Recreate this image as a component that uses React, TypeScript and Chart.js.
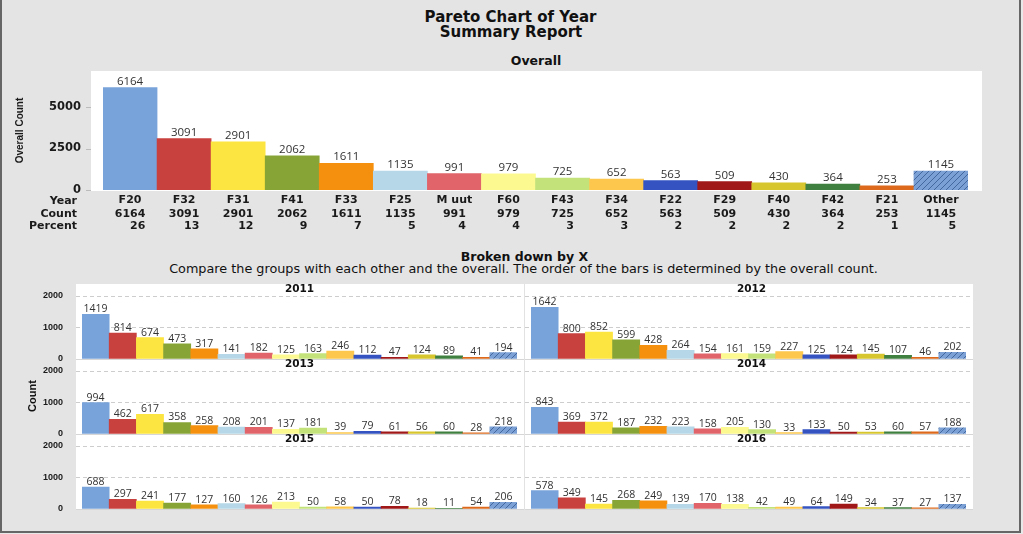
import React, { useEffect, useRef } from "react";
import { Chart, registerables } from "chart.js";
Chart.register(...registerables);

const categories = ["F20", "F32", "F31", "F41", "F33", "F25", "M uut", "F60", "F43", "F34", "F22", "F29", "F40", "F42", "F21", "Other"];
const overallCounts = [6164, 3091, 2901, 2062, 1611, 1135, 991, 979, 725, 652, 563, 509, 430, 364, 253, 1145];
const overallPercents = [26, 13, 12, 9, 7, 5, 4, 4, 3, 3, 2, 2, 2, 2, 1, 5];
const overallTicks = [0, 2500, 5000];
const panelTicks = [0, 1000, 2000];
const tableRows = ["Year", "Count", "Percent"];

const years = ["2011", "2012", "2013", "2014", "2015", "2016"];
const counts2011 = [1419, 814, 674, 473, 317, 141, 182, 125, 163, 246, 112, 47, 124, 89, 41, 194];
const counts2012 = [1642, 800, 852, 599, 428, 264, 154, 161, 159, 227, 125, 124, 145, 107, 46, 202];
const counts2013 = [994, 462, 617, 358, 258, 208, 201, 137, 181, 39, 79, 61, 56, 60, 28, 218];
const counts2014 = [843, 369, 372, 187, 232, 223, 158, 205, 130, 33, 133, 50, 53, 60, 57, 188];
const counts2015 = [688, 297, 241, 177, 127, 160, 126, 213, 50, 58, 50, 78, 18, 11, 54, 206];
const counts2016 = [578, 349, 145, 268, 249, 139, 170, 138, 42, 49, 64, 149, 34, 37, 27, 137];
const yearCounts = [counts2011, counts2012, counts2013, counts2014, counts2015, counts2016];

const barColors = [
  "#78a3da", "#c9413f", "#fde541", "#87a437", "#f5900f", "#b5d7e7", "#e0646a", "#fdf991",
  "#c4e27a", "#fcc74c", "#3554c2", "#a01818", "#d8c62f", "#3f7f3f", "#dd6a1c",
];

const BOLD = "'DejaVu Sans', sans-serif";
const VAL = "'Open Sans', sans-serif";
const SUB = "'DejaVu Sans', sans-serif";
const NARROW = "'Liberation Sans', Arial, sans-serif";

function makeHatch(): any {
  const c = document.createElement("canvas");
  c.width = 6;
  c.height = 6;
  const g = c.getContext("2d")!;
  g.fillStyle = "#7ba0d6";
  g.fillRect(0, 0, 6, 6);
  g.strokeStyle = "#43689f";
  g.lineWidth = 1;
  g.beginPath();
  g.moveTo(0, 6); g.lineTo(6, 0);
  g.moveTo(-3, 3); g.lineTo(3, -3);
  g.moveTo(3, 9); g.lineTo(9, 3);
  g.stroke();
  return g.createPattern(c, "repeat");
}

function colorsWithHatch() {
  return [...barColors, makeHatch()];
}

function ChartCanvas({ left, top, width, height, makeConfig }: any) {
  const ref = useRef<HTMLCanvasElement>(null);
  useEffect(() => {
    const chart = new Chart(ref.current as HTMLCanvasElement, makeConfig());
    return () => chart.destroy();
  }, []);
  return (
    <canvas
      ref={ref}
      width={width}
      height={height}
      style={{ position: "absolute", left, top, width, height }}
    />
  );
}

function Label({ cx, cy, text, size, bold, family, rotate, color }: any) {
  return (
    <div
      style={{
        position: "absolute",
        left: cx - 450,
        top: cy - size,
        width: 900,
        height: size * 2,
        lineHeight: `${size * 2}px`,
        textAlign: "center",
        fontFamily: family,
        fontSize: size,
        fontWeight: bold ? "bold" : "normal",
        color: color || "#111",
        whiteSpace: "nowrap",
        transform: rotate ? "rotate(-90deg)" : undefined,
      }}
    >
      {text}
    </div>
  );
}

function topConfig() {
  const decor = {
    id: "topDecor",
    beforeDraw(chart: any) {
      const { ctx, chartArea: a, scales } = chart;
      ctx.save();
      ctx.fillStyle = "#ffffff";
      ctx.fillRect(a.left - 12, a.top, a.right - a.left + 26, a.bottom - a.top + 1);
      ctx.strokeStyle = "#bbbbbb";
      ctx.lineWidth = 1;
      overallTicks.forEach((v) => {
        const y = Math.round(scales.y.getPixelForValue(v)) + 0.5;
        ctx.beginPath();
        ctx.moveTo(a.left - 17, y);
        ctx.lineTo(a.left - 12, y);
        ctx.stroke();
      });
      ctx.restore();
    },
    afterDatasetsDraw(chart: any) {
      const { ctx } = chart;
      const meta = chart.getDatasetMeta(0);
      ctx.save();
      ctx.font = `11.5px ${VAL}`;
      ctx.fillStyle = "#333333";
      ctx.textAlign = "center";
      ctx.textBaseline = "alphabetic";
      meta.data.forEach((bar: any, i: number) => {
        ctx.fillText(String(overallCounts[i]), bar.x, bar.y - 3);
      });
      ctx.restore();
    },
    afterDraw(chart: any) {
      const { ctx, scales } = chart;
      ctx.save();
      ctx.font = `bold 11px ${BOLD}`;
      ctx.fillStyle = "#1a1a1a";
      ctx.textBaseline = "middle";
      ctx.textAlign = "right";
      const rowY = [139, 152, 164];
      tableRows.forEach((t, i) => ctx.fillText(t, 77, rowY[i]));
      overallCounts.forEach((c, i) => {
        const x = scales.x.getPixelForValue(i);
        const s = String(c);
        const w = ctx.measureText(s).width;
        ctx.textAlign = "center";
        ctx.fillText(s, x, rowY[1]);
        ctx.textAlign = "right";
        ctx.fillText(String(overallPercents[i]), x + w / 2, rowY[2]);
      });
      ctx.restore();
    },
  };
  return {
    type: "bar",
    data: {
      labels: categories,
      datasets: [
        {
          data: overallCounts,
          backgroundColor: colorsWithHatch(),
          borderWidth: 0,
          categoryPercentage: 1,
          barPercentage: 1,
        },
      ],
    },
    options: {
      animation: false,
      responsive: false,
      maintainAspectRatio: false,
      devicePixelRatio: 1,
      layout: { padding: { top: 9, right: 32, left: 0, bottom: 0 } },
      plugins: { legend: { display: false }, tooltip: { enabled: false } },
      scales: {
        x: {
          grid: { display: false, drawTicks: false },
          border: { display: false },
          ticks: {
            font: { family: BOLD, weight: "bold", size: 11 },
            color: "#1a1a1a",
            padding: 4,
            maxRotation: 0,
            autoSkip: false,
          },
          afterFit(s: any) { s.height = 47; },
        },
        y: {
          min: 0,
          max: 7169,
          afterBuildTicks(s: any) { s.ticks = overallTicks.map((v) => ({ value: v })); },
          grid: { display: false, drawTicks: true, tickLength: 22 },
          border: { display: false },
          ticks: {
            font: { family: BOLD, weight: "bold", size: 11.5 },
            color: "#1a1a1a",
            padding: 0,
            callback: (v: any) => String(v),
          },
          title: {
            display: true,
            text: "Overall Count",
            font: { family: NARROW, weight: "bold", size: 10 },
            color: "#1a1a1a",
            padding: { top: 14, bottom: 0 },
          },
          afterFit(s: any) { s.width = 103; },
        },
      },
    },
    plugins: [decor],
  };
}

function panelConfig(idx: number) {
  const isLeft = idx % 2 === 0;
  const values = yearCounts[idx];
  const wl = isLeft ? 76 : 1;
  const wr = isLeft ? 524 : 449;
  const decor = {
    id: "panelDecor",
    beforeDatasetsDraw(chart: any) {
      const { ctx, scales } = chart;
      ctx.save();
      ctx.lineWidth = 1;
      ctx.strokeStyle = "#cdcdcd";
      ctx.setLineDash([4, 3]);
      [1000, 2000].forEach((v) => {
        const y = Math.round(scales.y.getPixelForValue(v)) + 0.5;
        ctx.beginPath();
        ctx.moveTo(wl, y);
        ctx.lineTo(wr, y);
        ctx.stroke();
      });
      ctx.setLineDash([]);
      ctx.strokeStyle = "#d6d6d6";
      const y0 = Math.round(scales.y.getPixelForValue(0)) + 0.5;
      ctx.beginPath();
      ctx.moveTo(wl, y0);
      ctx.lineTo(wr, y0);
      ctx.stroke();
      ctx.restore();
    },
    afterDatasetsDraw(chart: any) {
      const { ctx, chartArea: a } = chart;
      const meta = chart.getDatasetMeta(0);
      ctx.save();
      ctx.font = `10.5px ${VAL}`;
      ctx.fillStyle = "#333333";
      ctx.textAlign = "center";
      ctx.textBaseline = "alphabetic";
      meta.data.forEach((bar: any, i: number) => {
        ctx.fillText(String(values[i]), bar.x, bar.y - 2);
      });
      ctx.font = `bold 10.5px ${BOLD}`;
      ctx.fillStyle = "#111111";
      ctx.textBaseline = "middle";
      ctx.fillText(years[idx], (a.left + a.right) / 2 + (isLeft ? 0 : 3), a.top - 7);
      ctx.restore();
    },
  };
  return {
    type: "bar",
    data: {
      labels: categories,
      datasets: [
        {
          data: values,
          backgroundColor: colorsWithHatch(),
          borderWidth: 0,
          categoryPercentage: 1,
          barPercentage: 1,
        },
      ],
    },
    options: {
      animation: false,
      responsive: false,
      maintainAspectRatio: false,
      devicePixelRatio: 1,
      layout: { padding: { top: 14, left: isLeft ? 0 : 7, right: 7, bottom: 8.3 } },
      plugins: { legend: { display: false }, tooltip: { enabled: false } },
      scales: {
        x: { display: false },
        y: {
          display: isLeft,
          min: 0,
          max: 2000,
          afterBuildTicks(s: any) { s.ticks = panelTicks.map((v) => ({ value: v })); },
          grid: { display: false, drawTicks: true, tickLength: 19 },
          border: { display: false },
          ticks: {
            font: { family: NARROW, weight: "bold", size: 9 },
            color: "#1a1a1a",
            padding: 0,
            callback: (v: any) => String(v),
          },
          afterFit(s: any) { if (isLeft) s.width = 82; },
        },
      },
    },
    plugins: [decor],
  };
}

const rowTops = [296, 371, 446];

export default function App() {
  return (
    <div
      style={{
        position: "fixed",
        left: 0,
        top: 0,
        width: 1023,
        height: 534,
        background: "#e8e8e8",
        overflow: "hidden",
      }}
    >
      <div
        style={{
          position: "absolute",
          left: 0,
          top: 0,
          width: 1021,
          height: 533,
          boxSizing: "border-box",
          background: "#e4e4e4",
          borderLeft: "2px solid #666",
          borderRight: "2px solid #666",
          borderBottom: "2px solid #666",
        }}
      />
      <Label cx={510.5} cy={17} text="Pareto Chart of Year" size={15} bold family={BOLD} />
      <Label cx={511} cy={32} text="Summary Report" size={15} bold family={BOLD} />
      <Label cx={536} cy={60} text="Overall" size={12.5} bold family={BOLD} />
      <ChartCanvas left={0} top={62} width={1000} height={175} makeConfig={topConfig} />
      <Label cx={524.5} cy={256} text="Broken down by X" size={12.5} bold family={BOLD} />
      <Label
        cx={523.5}
        cy={268.5}
        text="Compare the groups with each other and the overall. The order of the bars is determined by the overall count."
        size={12.8}
        family={SUB}
      />
      <div style={{ position: "absolute", left: 76, top: 284, width: 897, height: 226, background: "#ffffff" }} />
      <div style={{ position: "absolute", left: 524, top: 284, width: 1, height: 226, background: "#e2e2e2" }} />
      <Label cx={32} cy={396} text="Count" size={11} bold family={NARROW} rotate />
      {years.map((y, i) => {
        const isLeft = i % 2 === 0;
        const row = Math.floor(i / 2);
        return (
          <ChartCanvas
            key={y}
            left={isLeft ? 0 : 524}
            top={rowTops[row] - 14}
            width={isLeft ? 524 : 449}
            height={85}
            makeConfig={() => panelConfig(i)}
          />
        );
      })}
    </div>
  );
}
